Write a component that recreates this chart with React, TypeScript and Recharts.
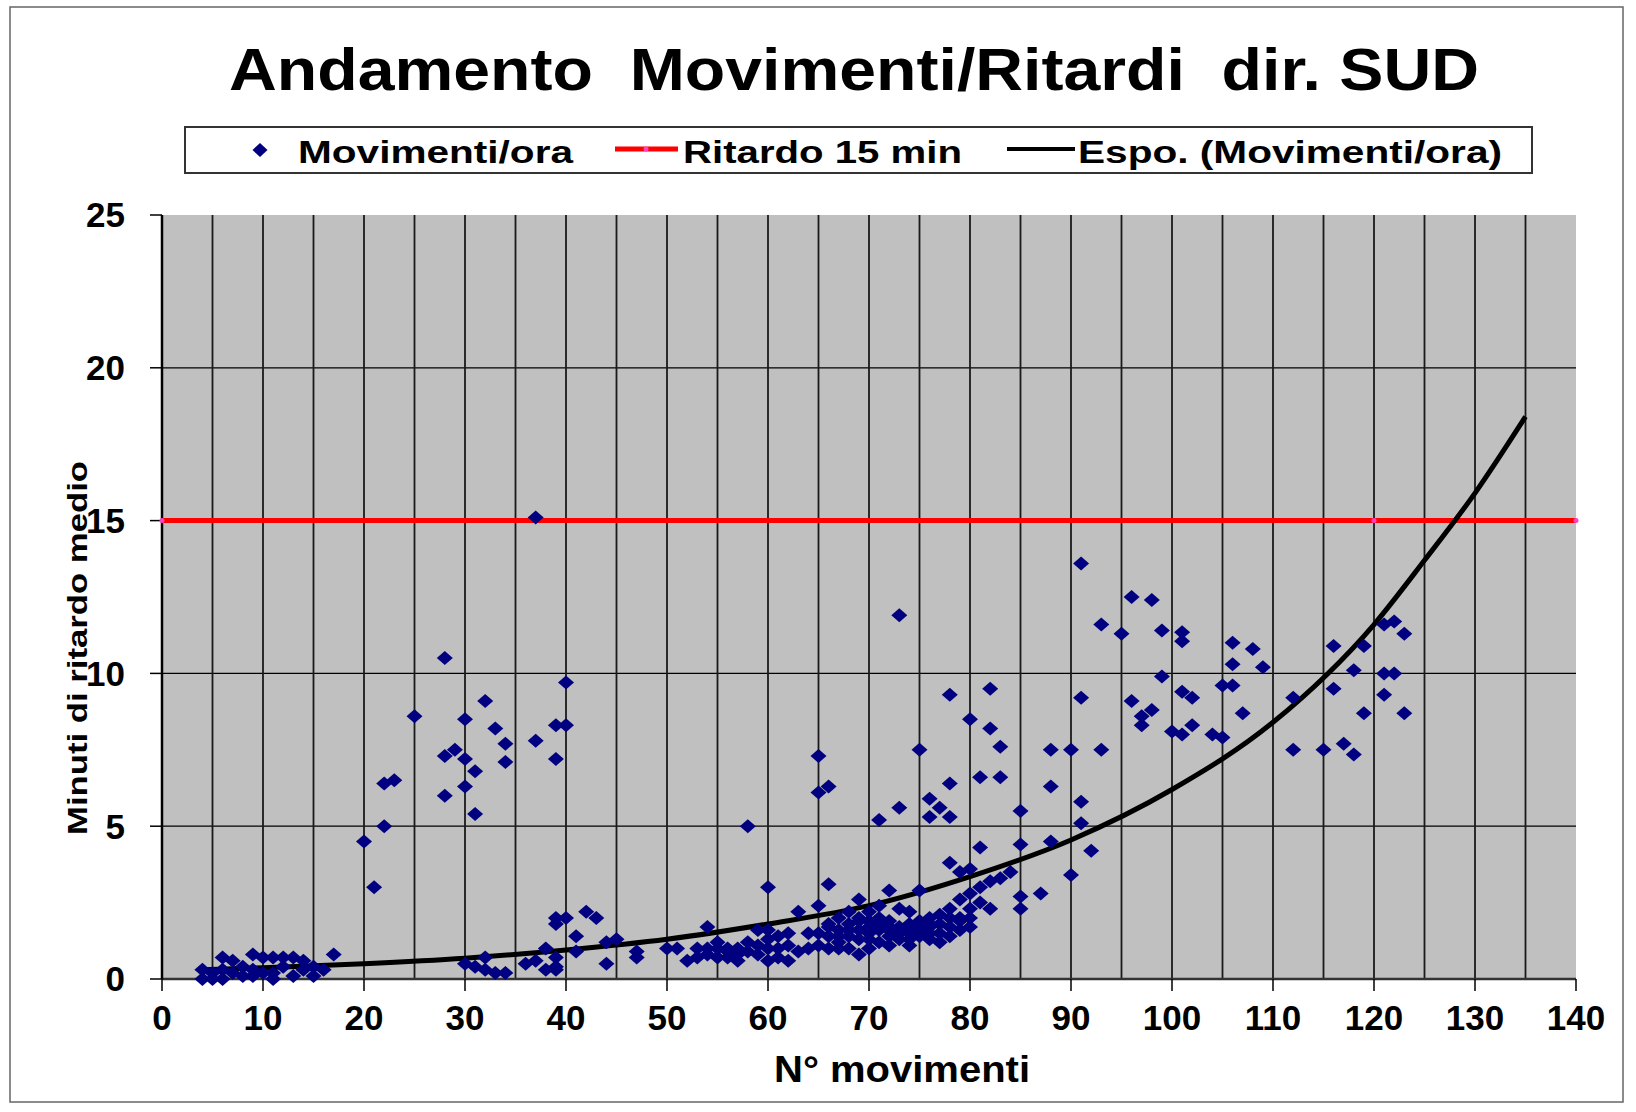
import React from 'react';
import {
    ComposedChart,
    Scatter,
    Line,
    XAxis,
    YAxis,
    CartesianGrid,
} from 'recharts';

// movimenti/ora (x) and minuti di ritardo medio (y)
const movX = [
    4, 4, 5, 5, 6, 6, 6, 7, 7, 8, 8, 9, 9, 9, 10, 10, 11, 11, 11, 12, 12, 13, 13, 14, 14, 15, 15, 16, 17,
    20, 21, 22, 22, 23, 25, 28, 28, 28, 29, 30, 30, 30, 31, 31, 32, 33, 34, 34, 37, 37, 39, 39, 40, 40,
    30, 31, 32, 32, 33, 34, 36, 37, 38, 38, 39, 39, 39, 40, 39, 41, 42, 43, 41, 39, 44, 44, 45, 47, 47,
    50, 52, 53, 54, 54, 55, 55, 56, 56, 57, 57, 58,
    59, 59, 60, 60, 60, 61, 61, 62, 62, 63, 64, 64, 65, 65, 65, 66, 66, 66, 66, 67, 67, 68, 68, 69, 69,
    69, 70, 70, 71, 71, 71, 72, 72, 72, 73, 73, 73, 73, 74, 74, 75, 75, 75, 75, 76, 76, 76, 76, 77, 77,
    77, 78, 78, 78, 78, 78, 78, 79, 79, 79, 80, 80, 80, 80, 81, 81, 81, 81, 82, 82, 82, 82, 83, 83, 83,
    84, 85, 85, 85, 85, 87, 88, 88, 88, 90, 90, 91, 91, 91, 91, 92, 93, 93,
    51, 53, 54, 55, 56, 57, 58, 59, 60, 61, 62, 63, 65, 65, 66, 67, 68, 68, 69, 69, 70, 70, 71, 71, 72,
    73, 74, 74, 75, 76, 77, 77, 78, 79, 80, 80,
    66, 67, 68, 69, 70, 71, 72, 73, 74, 75, 76, 78, 79, 67, 70, 72, 74, 76, 60, 58,
    95, 96, 96, 97, 97, 98, 98, 99, 99, 100, 101, 101, 101, 101, 102, 102, 104, 105, 105, 106, 106, 106,
    107, 108, 109, 112, 112, 115, 116, 116, 117, 118, 118, 119, 119, 121, 121, 121, 122, 122, 123, 123,
];
const movY = [
    0.0, 0.3, 0.0, 0.2, 0.0, 0.7, 0.3, 0.6, 0.2, 0.4, 0.1, 0.8, 0.1, 0.3, 0.7, 0.2, 0.0, 0.7, 0.2, 0.7, 0.4, 0.7, 0.1, 0.6, 0.3, 0.1, 0.4, 0.3, 0.8,
    4.5, 3.0, 5.0, 6.4, 6.5, 8.6, 10.5, 7.3, 6.0, 7.5, 8.5, 7.2, 6.3, 6.8, 5.4, 9.1, 8.2, 7.7, 7.1, 15.1, 7.8, 8.3, 7.2, 8.3, 9.7,
    0.5, 0.4, 0.7, 0.3, 0.2, 0.2, 0.5, 0.6, 1.0, 0.3, 0.4, 0.7, 2.0, 2.0, 1.8, 1.4, 2.2, 2.0, 0.9, 0.3, 1.2, 0.5, 1.3, 0.9, 0.7,
    1.0, 0.6, 1.0, 1.7, 1.0, 1.0, 0.7, 1.0, 0.7, 1.0, 0.8, 5.0,
    1.6, 1.1, 3.0, 1.0, 0.6, 1.4, 1.0, 1.5, 0.6, 2.2, 1.0, 1.5, 2.4, 7.3, 6.1, 6.3, 3.1, 1.4, 1.0, 1.6, 2.0, 1.4, 1.8, 2.6, 0.8,
    1.6, 1.7, 2.2, 2.0, 5.2, 1.2, 2.9, 1.4, 1.9, 11.9, 5.6, 1.7, 2.3, 1.1, 1.8, 7.5, 2.9, 1.4, 1.9, 5.9, 5.3, 2.0, 1.3, 5.6, 2.1,
    1.5, 9.3, 6.4, 5.3, 3.8, 1.7, 2.3, 3.5, 1.6, 2.6, 8.5, 3.6, 1.7, 2.3, 6.6, 4.3, 3.0, 2.5, 9.5, 8.2, 3.2, 2.3, 7.6, 6.6, 3.3,
    3.5, 5.5, 4.4, 2.7, 2.3, 2.8, 7.5, 6.3, 4.5, 7.5, 3.4, 13.6, 9.2, 5.8, 5.1, 4.2, 11.6, 7.5,
    1.0, 0.7, 0.8, 1.2, 0.9, 0.6, 0.9, 0.8, 1.3, 0.7, 1.1, 0.9, 1.5, 1.1, 1.8, 1.2, 1.0, 2.2, 1.3, 2.0, 1.3, 1.0, 1.6, 2.4, 1.1,
    1.3, 1.5, 2.2, 1.6, 1.7, 1.8, 1.2, 2.0, 2.0, 2.8, 2.0,
    1.7, 1.4, 1.6, 1.9, 1.5, 1.8, 1.6, 1.5, 1.3, 1.7, 1.5, 1.4, 1.9, 1.0, 1.9, 1.7, 1.6, 1.8, 1.6, 1.2,
    11.3, 12.5, 9.1, 8.6, 8.3, 12.4, 8.8, 11.4, 9.9, 8.1, 11.35, 11.05, 9.4, 8.0, 9.2, 8.3, 8.0, 9.6, 7.9, 11.0, 10.3, 9.6,
    8.7, 10.8, 10.2, 9.2, 7.5, 7.5, 10.9, 9.5, 7.7, 10.1, 7.35, 10.9, 8.7, 11.6, 10.0, 9.3, 11.7, 10.0, 11.3, 8.7,
];

// soglia "Ritardo 15 min"
const sogliaX = [0, 120, 140];
const sogliaY = [15, 15, 15];

// linea di tendenza esponenziale
const trendX = [4, 10, 20, 30, 40, 50, 60, 70, 80, 90, 100, 110, 120, 125, 130, 135];
const trendY = [0.3, 0.37, 0.5, 0.68, 0.95, 1.3, 1.8, 2.4, 3.35, 4.55, 6.2, 8.4, 11.6, 13.7, 15.9, 18.4];

const xTicks = [0, 10, 20, 30, 40, 50, 60, 70, 80, 90, 100, 110, 120, 130, 140];
const yTicks = [0, 5, 10, 15, 20, 25];
const xGrid = [0, 5, 10, 15, 20, 25, 30, 35, 40, 45, 50, 55, 60, 65, 70, 75, 80, 85, 90, 95, 100, 105, 110, 115, 120, 125, 130, 135];
const yGrid = [5, 10, 15, 20];

const movimenti = movX.map((x, i) => ({ x, y: movY[i] }));
const soglia = sogliaX.map((x, i) => ({ x, y: sogliaY[i] }));
const trend = trendX.map((x, i) => ({ x, y: trendY[i] }));

const FONT = '"Liberation Sans", Arial, sans-serif';
const NAVY = '#000080';

const Diamond = (props: any) => {
    const { cx, cy } = props;
    if (cx == null || cy == null) return null;
    return (
        <polygon
            points={`${cx - 8},${cy} ${cx},${cy - 7} ${cx + 8},${cy} ${cx},${cy + 7}`}
            fill={NAVY}
        />
    );
};

const tickStyle = { fill: '#000', fontSize: 35, fontWeight: 'bold', fontFamily: FONT };

const Overlay = () => (
    <svg
        width={1636}
        height={1112}
        style={{ position: 'absolute', left: 0, top: 0, pointerEvents: 'none' }}
        fontFamily={FONT}
        fontWeight="bold"
    >
        <rect x={10} y={7} width={1613} height={1095} fill="none" stroke="#666" strokeWidth={1.5} />
        <text x={229} y={90} fontSize={60} textLength={1250} lengthAdjust="spacingAndGlyphs" style={{ whiteSpace: 'pre' }}>
            Andamento  Movimenti/Ritardi  dir. SUD
        </text>

        {/* legenda */}
        <rect x={185} y={127} width={1347} height={46} fill="#fff" stroke="#333" strokeWidth={2} />
        <polygon points="252.5,150 260,143 267.5,150 260,157" fill={NAVY} />
        <text x={298} y={163} fontSize={32} textLength={275} lengthAdjust="spacingAndGlyphs">Movimenti/ora</text>
        <line x1={615} y1={149} x2={678} y2={149} stroke="#ff0000" strokeWidth={5} />
        <circle cx={646} cy={149} r={2.5} fill="#ff40c0" />
        <text x={683} y={163} fontSize={32} textLength={279} lengthAdjust="spacingAndGlyphs">Ritardo 15 min</text>
        <line x1={1007} y1={149} x2={1075} y2={149} stroke="#000" strokeWidth={4} />
        <text x={1078} y={163} fontSize={32} textLength={424} lengthAdjust="spacingAndGlyphs">Espo. (Movimenti/ora)</text>

        {/* titoli assi */}
        <text
            x={87}
            y={648}
            fontSize={28}
            textAnchor="middle"
            transform="rotate(-90 87 648)"
            textLength={374}
            lengthAdjust="spacingAndGlyphs"
        >
            Minuti di ritardo medio
        </text>
        <text x={774} y={1082} fontSize={36} textLength={256} lengthAdjust="spacingAndGlyphs">N° movimenti</text>
    </svg>
);

const App = () => {
    return (
        <div style={{ position: 'absolute', left: 0, top: 0, width: 1636, height: 1112, background: '#fff' }}>
            <div style={{ position: 'absolute', left: 0, top: 0 }}>
                <ComposedChart
                    width={1636}
                    height={1112}
                    margin={{ top: 215, right: 60, bottom: 73, left: 62 }}
                >
                    <CartesianGrid
                        horizontal={true}
                        vertical={false}
                        horizontalValues={yGrid}
                        fill="#c0c0c0"
                        stroke="#000"
                        strokeWidth={1.2}
                    />
                    <CartesianGrid
                        horizontal={false}
                        vertical={true}
                        verticalValues={xGrid}
                        stroke="#1a1a1a"
                        strokeWidth={1.8}
                    />
                    <XAxis
                        type="number"
                        dataKey="x"
                        domain={[0, 140]}
                        ticks={xTicks}
                        interval={0}
                        height={60}
                        tickSize={12}
                        tickMargin={14}
                        tick={tickStyle}
                        axisLine={{ stroke: '#333', strokeWidth: 2.5 }}
                        tickLine={{ stroke: '#000', strokeWidth: 1.5 }}
                    />
                    <YAxis
                        type="number"
                        dataKey="y"
                        domain={[0, 25]}
                        ticks={yTicks}
                        interval={0}
                        width={100}
                        tickSize={12}
                        tickMargin={25}
                        tick={tickStyle}
                        axisLine={{ stroke: '#000', strokeWidth: 2.5 }}
                        tickLine={{ stroke: '#000', strokeWidth: 1.5 }}
                    />
                    <Line
                        data={soglia}
                        dataKey="y"
                        type="linear"
                        stroke="#ff0000"
                        strokeWidth={5}
                        dot={{ r: 2.5, fill: '#ff40c0', stroke: 'none' }}
                        isAnimationActive={false}
                    />
                    <Scatter
                        data={movimenti}
                        dataKey="y"
                        shape={Diamond}
                        isAnimationActive={false}
                    />
                    <Line
                        data={trend}
                        dataKey="y"
                        type="monotone"
                        stroke="#000"
                        strokeWidth={5}
                        dot={false}
                        isAnimationActive={false}
                    />
                </ComposedChart>
            </div>
            <Overlay />
        </div>
    );
};

export default App;
